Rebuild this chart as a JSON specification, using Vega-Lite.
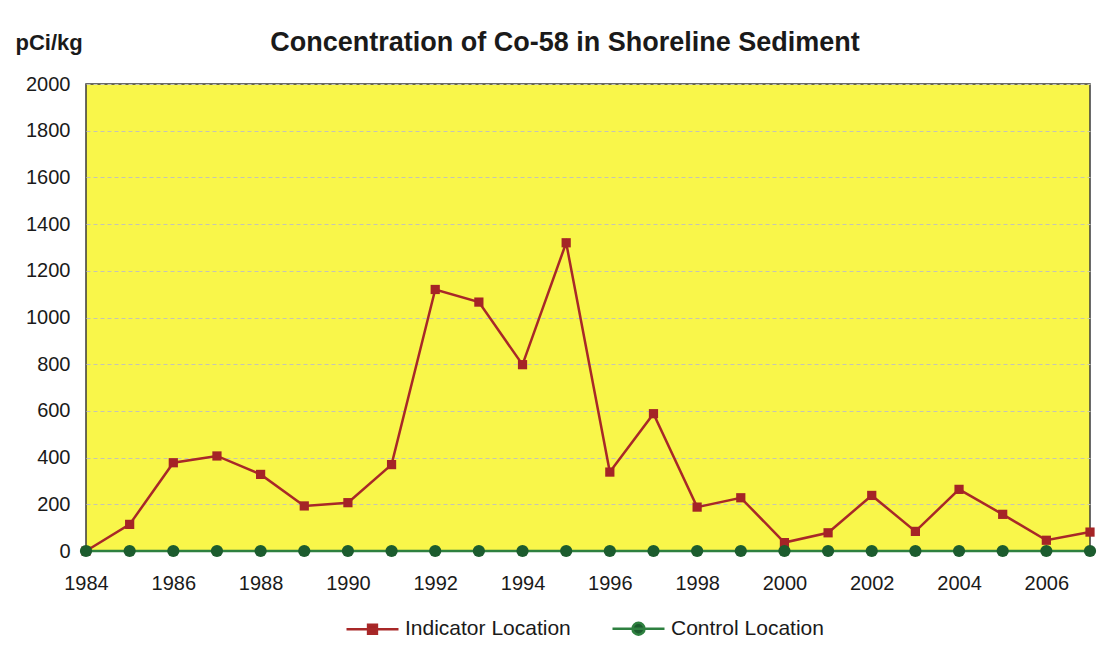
{
  "$schema": "https://vega.github.io/schema/vega-lite/v6.json",
  "width": 1004,
  "height": 467,
  "autosize": {"type": "none"},
  "padding": {"left": 86, "top": 84, "right": 19, "bottom": 106},
  "background": "#ffffff",
  "config": {
    "font": "Liberation Sans",
    "view": {"fill": "#F9F64A", "stroke": "#3a3a3a", "strokeWidth": 1.5}
  },
  "title": {
    "text": "Concentration of Co-58 in Shoreline Sediment",
    "font": "Liberation Sans",
    "fontSize": 27,
    "fontWeight": "bold",
    "color": "#1a1a1a",
    "anchor": "middle",
    "frame": "group",
    "baseline": "alphabetic",
    "offset": -47,
    "dx": -23
  },
  "data": {
    "values": [
      {"year": 1984, "series": "Indicator Location", "value": 0},
      {"year": 1985, "series": "Indicator Location", "value": 114},
      {"year": 1986, "series": "Indicator Location", "value": 378},
      {"year": 1987, "series": "Indicator Location", "value": 407},
      {"year": 1988, "series": "Indicator Location", "value": 328},
      {"year": 1989, "series": "Indicator Location", "value": 193},
      {"year": 1990, "series": "Indicator Location", "value": 207},
      {"year": 1991, "series": "Indicator Location", "value": 370},
      {"year": 1992, "series": "Indicator Location", "value": 1120},
      {"year": 1993, "series": "Indicator Location", "value": 1066},
      {"year": 1994, "series": "Indicator Location", "value": 798},
      {"year": 1995, "series": "Indicator Location", "value": 1320},
      {"year": 1996, "series": "Indicator Location", "value": 338},
      {"year": 1997, "series": "Indicator Location", "value": 588},
      {"year": 1998, "series": "Indicator Location", "value": 188},
      {"year": 1999, "series": "Indicator Location", "value": 228},
      {"year": 2000, "series": "Indicator Location", "value": 36},
      {"year": 2001, "series": "Indicator Location", "value": 78},
      {"year": 2002, "series": "Indicator Location", "value": 238},
      {"year": 2003, "series": "Indicator Location", "value": 84},
      {"year": 2004, "series": "Indicator Location", "value": 264},
      {"year": 2005, "series": "Indicator Location", "value": 157},
      {"year": 2006, "series": "Indicator Location", "value": 46},
      {"year": 2007, "series": "Indicator Location", "value": 81},
      {"year": 1984, "series": "Control Location", "value": 0},
      {"year": 1985, "series": "Control Location", "value": 0},
      {"year": 1986, "series": "Control Location", "value": 0},
      {"year": 1987, "series": "Control Location", "value": 0},
      {"year": 1988, "series": "Control Location", "value": 0},
      {"year": 1989, "series": "Control Location", "value": 0},
      {"year": 1990, "series": "Control Location", "value": 0},
      {"year": 1991, "series": "Control Location", "value": 0},
      {"year": 1992, "series": "Control Location", "value": 0},
      {"year": 1993, "series": "Control Location", "value": 0},
      {"year": 1994, "series": "Control Location", "value": 0},
      {"year": 1995, "series": "Control Location", "value": 0},
      {"year": 1996, "series": "Control Location", "value": 0},
      {"year": 1997, "series": "Control Location", "value": 0},
      {"year": 1998, "series": "Control Location", "value": 0},
      {"year": 1999, "series": "Control Location", "value": 0},
      {"year": 2000, "series": "Control Location", "value": 0},
      {"year": 2001, "series": "Control Location", "value": 0},
      {"year": 2002, "series": "Control Location", "value": 0},
      {"year": 2003, "series": "Control Location", "value": 0},
      {"year": 2004, "series": "Control Location", "value": 0},
      {"year": 2005, "series": "Control Location", "value": 0},
      {"year": 2006, "series": "Control Location", "value": 0},
      {"year": 2007, "series": "Control Location", "value": 0}
    ]
  },
  "encoding": {
    "x": {
      "field": "year",
      "type": "quantitative",
      "scale": {"domain": [1984, 2007], "nice": false, "zero": false},
      "axis": {
        "title": null,
        "values": [1984, 1986, 1988, 1990, 1992, 1994, 1996, 1998, 2000, 2002, 2004, 2006],
        "format": "d",
        "grid": false,
        "domain": false,
        "ticks": false,
        "labelFont": "Liberation Sans",
        "labelFontSize": 20,
        "labelColor": "#1a1a1a",
        "labelPadding": 22,
        "labelOverlap": false,
        "labelFlush": false
      }
    },
    "y": {
      "field": "value",
      "type": "quantitative",
      "scale": {"domain": [0, 2000], "nice": false},
      "axis": {
        "values": [0, 200, 400, 600, 800, 1000, 1200, 1400, 1600, 1800, 2000],
        "format": "d",
        "title": "pCi/kg",
        "titleFont": "Liberation Sans",
        "titleFontSize": 22,
        "titleFontWeight": "bold",
        "titleColor": "#1a1a1a",
        "titleAngle": 0,
        "titleAlign": "left",
        "titleBaseline": "alphabetic",
        "titleX": -71,
        "titleY": -35,
        "domain": false,
        "ticks": false,
        "grid": true,
        "gridColor": "#c4c4b4",
        "gridDash": [4, 3],
        "gridWidth": 1,
        "labelFont": "Liberation Sans",
        "labelFontSize": 20,
        "labelColor": "#1a1a1a",
        "labelPadding": 16
      }
    }
  },
  "layer": [
    {
      "mark": {"type": "line", "strokeWidth": 2.5},
      "encoding": {
        "color": {
          "field": "series",
          "type": "nominal",
          "sort": ["Indicator Location", "Control Location"],
          "scale": {"domain": ["Indicator Location", "Control Location"], "range": ["#A82828", "#2E8040"]},
          "legend": {
            "title": null,
            "orient": "none",
            "direction": "horizontal",
            "legendX": 259,
            "legendY": 517,
            "symbolSize": 2704,
            "symbolStrokeWidth": 2.5,
            "labelFont": "Liberation Sans",
            "labelFontSize": 21,
            "labelColor": "#1a1a1a",
            "labelOffset": 5,
            "columnPadding": 36,
            "labelLimit": 400,
            "encode": {
              "symbols": {
                "update": {
                  "shape": {"signal": "datum.value === 'Indicator Location' ? 'M-1,0H1M-0.17,-0.17H0.17V0.17H-0.17Z' : 'M-1,0H1M0.23,0A0.23,0.23 0 1 1 -0.23,0A0.23,0.23 0 1 1 0.23,0Z'"},
                  "fill": {"signal": "datum.value === 'Indicator Location' ? '#A52426' : '#1C5C2E'"},
                  "stroke": {"signal": "datum.value === 'Indicator Location' ? '#A82828' : '#2E8040'"},
                  "strokeWidth": {"value": 2.5},
                  "opacity": {"value": 1}
                }
              }
            }
          }
        }
      }
    },
    {
      "mark": {"type": "point", "filled": true, "opacity": 1},
      "encoding": {
        "fill": {
          "field": "series",
          "type": "nominal",
          "scale": {"domain": ["Indicator Location", "Control Location"], "range": ["#A52426", "#1C5C2E"]},
          "legend": null
        },
        "shape": {
          "condition": {"test": "datum.series === 'Control Location'", "value": "circle"},
          "value": "square"
        },
        "size": {
          "condition": {"test": "datum.series === 'Control Location'", "value": 150},
          "value": 85
        }
      }
    }
  ]
}
